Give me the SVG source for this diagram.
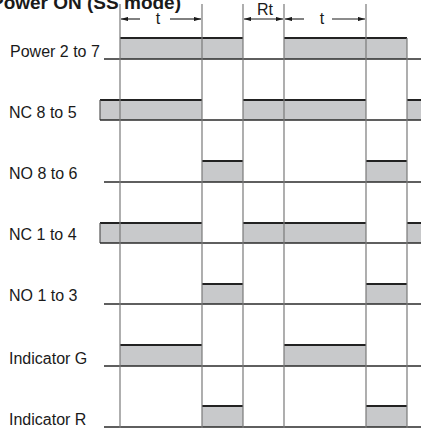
<svg xmlns="http://www.w3.org/2000/svg" width="421" height="428" viewBox="0 0 421 428">
<defs>
<style>
text{font-family:"Liberation Sans",Arial,sans-serif;fill:#1a1a1a}
.lbl{font-size:16px}
.title{font-size:19px;font-weight:bold}
.grid{stroke:#7a7a7a;stroke-width:1.2;fill:none}
.base{stroke:#2a2a2a;stroke-width:1.3;fill:none}
.box{fill:#c8c9cb;stroke:none}
.top{stroke:#222;stroke-width:2.2;fill:none}
.side{stroke:#555;stroke-width:1.2;fill:none}
.dim{stroke:#1a1a1a;stroke-width:1.1;fill:none}
</style>
<marker id="ah" viewBox="0 0 10 6" refX="10" refY="3" markerWidth="7" markerHeight="4.5" orient="auto-start-reverse" markerUnits="userSpaceOnUse">
<path d="M0,0 L10,3 L0,6 Z" fill="#1a1a1a"/>
</marker>
</defs>
<rect width="421" height="428" fill="#fff"/>
<text class="title" x="181" y="9" text-anchor="end">Power ON (SS mode)</text>

<g id="signals">
<g id="power">
<rect class="box" x="120" y="38" width="123" height="21"/>
<rect class="box" x="284" y="38" width="123" height="21"/>
<path class="top" d="M120,38 H243 M284,38 H407"/>
<path class="base" d="M104,59 H421"/>
</g>
<g id="nc85">
<rect class="box" x="100" y="100" width="102" height="20"/>
<rect class="box" x="243" y="100" width="123" height="20"/>
<rect class="box" x="407" y="100" width="14" height="20"/>
<path class="top" d="M100,100 H202 M243,100 H366 M407,100 H421"/>
<path class="side" d="M100,100 V120"/>
<path class="base" d="M100,120 H421"/>
</g>
<g id="no86">
<rect class="box" x="202" y="161" width="41" height="21"/>
<rect class="box" x="366" y="161" width="41" height="21"/>
<path class="top" d="M202,161 H243 M366,161 H407"/>
<path class="base" d="M104,182 H421"/>
</g>
<g id="nc14">
<rect class="box" x="100" y="223" width="102" height="20"/>
<rect class="box" x="243" y="223" width="123" height="20"/>
<rect class="box" x="407" y="223" width="14" height="20"/>
<path class="top" d="M100,223 H202 M243,223 H366 M407,223 H421"/>
<path class="side" d="M100,223 V243"/>
<path class="base" d="M100,243 H421"/>
</g>
<g id="no13">
<rect class="box" x="202" y="284" width="41" height="20"/>
<rect class="box" x="366" y="284" width="41" height="20"/>
<path class="top" d="M202,284 H243 M366,284 H407"/>
<path class="base" d="M104,304 H421"/>
</g>
<g id="indG">
<rect class="box" x="120" y="345" width="82" height="21"/>
<rect class="box" x="284" y="345" width="82" height="21"/>
<path class="top" d="M120,345 H202 M284,345 H366"/>
<path class="base" d="M104,366 H421"/>
</g>
<g id="indR">
<rect class="box" x="202" y="406" width="41" height="21"/>
<rect class="box" x="366" y="406" width="41" height="21"/>
<path class="top" d="M202,406 H243 M366,406 H407"/>
<path class="base" d="M104,427 H421"/>
</g>
</g>

<g id="gridlines">
<path class="grid" d="M120,4 V428 M202,4 V428 M243,4 V428 M284,4 V428 M366,4 V428 M407,38 V428"/>
</g>

<g id="dimensions">
<path class="dim" d="M140,19 H121" marker-end="url(#ah)"/>
<path class="dim" d="M170,19 H201" marker-end="url(#ah)"/>
<path class="dim" d="M244,19 H283" marker-start="url(#ah)" marker-end="url(#ah)"/>
<path class="dim" d="M304,19 H285" marker-end="url(#ah)"/>
<path class="dim" d="M332,19 H365" marker-end="url(#ah)"/>
<text class="lbl" x="158" y="24" text-anchor="middle">t</text>
<text class="lbl" x="265" y="15" text-anchor="middle">Rt</text>
<text class="lbl" x="322" y="24" text-anchor="middle">t</text>
</g>

<g id="labels">
<text class="lbl" x="10" y="57">Power 2 to 7</text>
<text class="lbl" x="9" y="118">NC 8 to 5</text>
<text class="lbl" x="9" y="179">NO 8 to 6</text>
<text class="lbl" x="9" y="240">NC 1 to 4</text>
<text class="lbl" x="9" y="301">NO 1 to 3</text>
<text class="lbl" x="9" y="364">Indicator G</text>
<text class="lbl" x="9" y="425">Indicator R</text>
</g>
</svg>
